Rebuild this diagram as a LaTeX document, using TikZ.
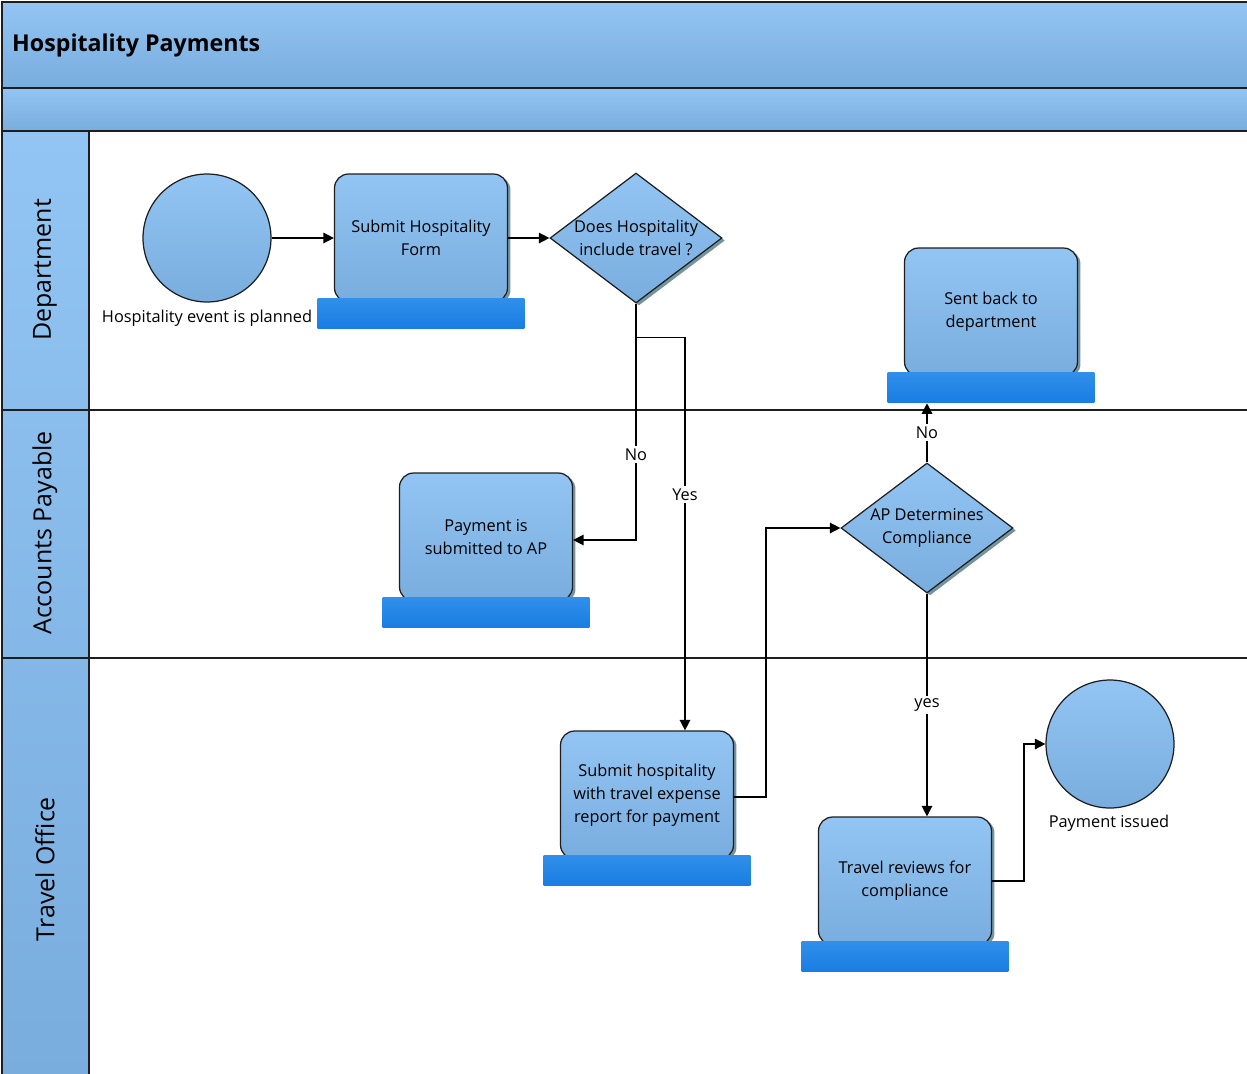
\documentclass[tikz,border=0pt]{standalone}
\usepackage{fontspec}
\setmainfont{Open Sans}
\usepackage{tikz}
\usetikzlibrary{
  shapes.geometric,
  arrows.meta,
  positioning,
  shadows
}
\definecolor{LaneTop}{RGB}{146,197,243}
\definecolor{LaneBottom}{RGB}{121,173,222}
\definecolor{BarTop}{RGB}{48,143,234}
\definecolor{BarBottom}{RGB}{24,124,226}
\definecolor{ShadowGray}{RGB}{118,148,160}
\definecolor{LineDark}{RGB}{30,30,30}
\tikzset{
    band/.style={draw=LineDark, line width=0.8pt, top color=LaneTop, bottom color=LaneBottom},
    lanename/.style={rotate=90, font=\fontsize{14.2}{16}\selectfont},
    task/.style={rectangle, rounded corners=8pt, draw=LineDark, line width=0.7pt,
        top color=LaneTop, bottom color=LaneBottom,
        minimum width=3.46cm, minimum height=2.56cm, align=center,
        font=\fontsize{9.3}{13}\selectfont,
        drop shadow={shadow xshift=0.06cm, shadow yshift=-0.04cm, fill=ShadowGray, opacity=1}},
    bar/.style={rectangle, top color=BarTop, bottom color=BarBottom,
        minimum width=4.14cm, minimum height=0.6cm, inner sep=0pt},
    choice/.style={diamond, draw=LineDark, line width=0.7pt,
        top color=LaneTop, bottom color=LaneBottom,
        minimum width=3.44cm, minimum height=2.6cm, inner sep=0pt,
        drop shadow={shadow xshift=0.06cm, shadow yshift=-0.05cm, fill=ShadowGray, opacity=1}},
    event/.style={circle, draw=LineDark, line width=0.7pt,
        top color=LaneTop, bottom color=LaneBottom,
        minimum size=2.56cm, inner sep=0pt},
    caption/.style={font=\fontsize{9.3}{11}\selectfont, inner sep=1pt},
    flow/.style={-{Triangle[length=6pt, width=6pt]}, line width=0.8pt},
    lbl/.style={fill=white, font=\fontsize{9.3}{11}\selectfont, inner sep=1.5pt}
}

\begin{document}
\begin{tikzpicture}[x=0.02cm, y=-0.02cm]
    \useasboundingbox (0,0) rectangle (1247,1073);
    \fill[white] (0,0) rectangle (1247,1073);

    % pool and lanes
    \path[band] (2,2) rectangle (1252,88);
    \path[band] (2,88) rectangle (1252,131);
    \path[band] (2,131) rectangle (89,1080);
    \draw[LineDark, line width=0.8pt] (89,410) -- (1252,410);
    \draw[LineDark, line width=0.8pt] (2,410) -- (89,410);
    \draw[LineDark, line width=0.8pt] (2,658) -- (1252,658);
    \node[anchor=west, font=\fontsize{13.2}{15}\selectfont\bfseries] (title) at (6,45) {Hospitality Payments};
    \node[lanename] (dept) at (45,270) {Department};
    \node[lanename] (ap) at (45,533) {Accounts Payable};
    \node[lanename] (travel) at (45,869) {Travel Office};

    % department
    \node[event] (start) at (207,238) {};
    \node[caption] (startlbl) at (207,318) {Hospitality event is planned};
    \node[task] (form) at (421,238) {Submit Hospitality\\Form};
    \node[bar, below=-0.08cm of form] (formbar) {};
    \node[choice, label={[align=center, font=\fontsize{9.3}{13}\selectfont]center:Does Hospitality\\include travel ?}] (travelq) at (636,238) {};
    \node[task] (sentback) at (991,312) {Sent back to\\department};
    \node[bar, below=-0.08cm of sentback] (sentbar) {};

    % accounts payable
    \node[task] (payap) at (486,537) {Payment is\\submitted to AP};
    \node[bar, below=-0.08cm of payap] (payapbar) {};
    \node[choice, label={[align=center, font=\fontsize{9.3}{13}\selectfont]center:AP Determines\\Compliance}] (compq) at (927,528) {};

    % travel office
    \node[task] (expense) at (647,795) {Submit hospitality\\with travel expense\\report for payment};
    \node[bar, below=-0.08cm of expense] (expensebar) {};
    \node[task] (review) at (905,881) {Travel reviews for\\compliance};
    \node[bar, below=-0.08cm of review] (reviewbar) {};
    \node[event] (finish) at (1110,744) {};
    \node[caption] (finishlbl) at (1109,823) {Payment issued};

    % connectors
    \draw[flow] (start.east) -- (start.east -| form.west);
    \draw[flow] (form.east) -- (travelq.west);
    \draw[flow] (travelq.south) |- node[lbl, pos=0.32] (nolbl) {No} ([yshift=-0.06cm]payap.east);
    \draw[flow] (travelq.south) -- ++(0,34) -| node[lbl, pos=0.7] (yeslbl) {Yes} ([xshift=0.76cm]expense.north);
    \draw[flow] ([yshift=-0.04cm]expense.east) -- ++(32,0) |- (compq.west);
    \draw[flow] (compq.north) -- node[lbl] (nolbltwo) {No} (compq.north |- sentbar.south);
    \draw[flow] (compq.south) -- node[lbl] (yeslbltwo) {yes} (compq.south |- review.north);
    \draw[flow] (review.east) -- ++(32,0) |- (finish.west);
\end{tikzpicture}
\end{document}
